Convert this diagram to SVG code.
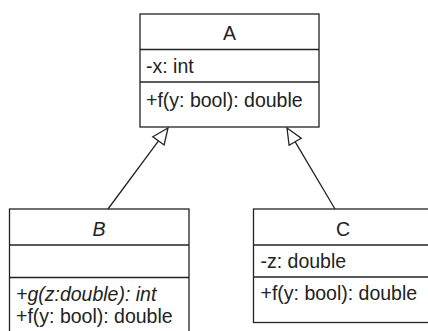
<svg xmlns="http://www.w3.org/2000/svg" width="428" height="331" viewBox="0 0 428 331">
<style>
.box{fill:#fff;stroke:#222;stroke-width:1.3}
.div{stroke:#222;stroke-width:1.3}
.t{font-family:"Liberation Sans",Arial,sans-serif;font-size:19.5px;fill:#222}
.c{text-anchor:middle}
.i{font-style:italic}
.edge{stroke:#222;stroke-width:1.3;fill:none}
.head{fill:#fff;stroke:#222;stroke-width:1.3}
</style>
<rect width="428" height="331" fill="#fff"/>
<g id="connectors">
<line class="edge" x1="108" y1="209" x2="158.5" y2="140.9"/>
<polygon class="head" points="168,128 152.8,136.7 164.1,145"/>
<line class="edge" x1="335" y1="209" x2="295.2" y2="141.8"/>
<polygon class="head" points="287,128 301.2,138.2 289.1,145.3"/>
</g>
<g id="A">
<rect class="box" x="140" y="14" width="179" height="113"/>
<line class="div" x1="140" y1="49.5" x2="319" y2="49.5"/>
<line class="div" x1="140" y1="82" x2="319" y2="82"/>
<text class="t c" x="229.5" y="40">A</text>
<text class="t" x="146" y="73">-x: int</text>
<text class="t" x="146" y="106.5">+f(y: bool): double</text>
</g>
<g id="B">
<rect class="box" x="9.5" y="209" width="179.5" height="130"/>
<line class="div" x1="9.5" y1="245" x2="189" y2="245"/>
<line class="div" x1="9.5" y1="277.5" x2="189" y2="277.5"/>
<text class="t c i" x="99" y="236">B</text>
<text class="t i" x="16" y="300.5">+g(z:double): int</text>
<text class="t" x="16" y="323">+f(y: bool): double</text>
</g>
<g id="C">
<rect class="box" x="253.5" y="209" width="180" height="113.5"/>
<line class="div" x1="253.5" y1="245" x2="433.5" y2="245"/>
<line class="div" x1="253.5" y1="277" x2="433.5" y2="277"/>
<text class="t c" x="343" y="236">C</text>
<text class="t" x="260.5" y="267.5">-z: double</text>
<text class="t" x="260.5" y="300">+f(y: bool): double</text>
</g>
</svg>
